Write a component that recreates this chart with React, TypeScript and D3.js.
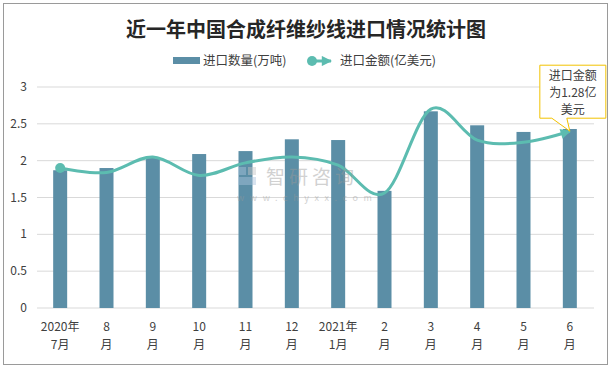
import * as d3 from "d3";

const months = ["7月", "8月", "9月", "10月", "11月", "12月", "1月", "2月", "3月", "4月", "5月", "6月"];
const labelTop = ["2020年", "8", "9", "10", "11", "12", "2021年", "2", "3", "4", "5", "6"];
const labelBottom = ["7月", "月", "月", "月", "月", "月", "1月", "月", "月", "月", "月", "月"];
const volume = [1.87, 1.9, 2.05, 2.09, 2.13, 2.29, 2.28, 1.59, 2.67, 2.48, 2.39, 2.43];
const amount = [1.9, 1.84, 2.05, 1.8, 1.97, 2.05, 1.94, 1.56, 2.7, 2.28, 2.25, 2.4];
const yTicks = [0, 0.5, 1, 1.5, 2, 2.5, 3];
const calloutLines = ["进口金额", "为1.28亿", "美元"];

const W = 611;
const H = 369;
const font = "'Noto Sans CJK SC', 'Microsoft YaHei', sans-serif";
const barColor = "#5b8ea6";
const lineColor = "#5cbcb0";

export default function App() {
  const x = d3.scaleBand<string>().domain(months).range([37, 593]).padding(0);
  const y = d3.scaleLinear().domain([0, 3]).range([308, 87]);
  const cx = (m: string) => (x(m) as number) + x.bandwidth() / 2;
  const barW = 14;

  const line = d3
    .line<number>()
    .x((_, i) => cx(months[i]))
    .y((d) => y(d))
    .curve(d3.curveCardinal.tension(0));

  const lastX = cx(months[months.length - 1]);
  const lastY = y(amount[amount.length - 1]);

  return (
    <svg
      width={W}
      height={H}
      style={{ position: "absolute", left: 0, top: 0, fontFamily: font }}
    >
      <defs>
        <marker
          id="arr"
          viewBox="0 0 10 10"
          refX="9"
          refY="5"
          markerWidth="4"
          markerHeight="3.4"
          orient="auto"
          markerUnits="strokeWidth"
        >
          <path d="M0,0 L10,5 L0,10 z" fill={lineColor} />
        </marker>
      </defs>
      <rect x={0} y={0} width={W} height={H} fill="#fff" />
      <rect x={3.5} y={3.5} width={604} height={361} fill="#fff" stroke="#9a9a9a" strokeWidth={1} />

      <text x={306} y={37} textAnchor="middle" fontSize={20} fontWeight={700} fill="#262626">
        近一年中国合成纤维纱线进口情况统计图
      </text>

      {/* legend */}
      <rect x={173} y={57} width={27} height={7} fill={barColor} />
      <text x={203} y={65} fontSize={12.5} fill="#404040">进口数量(万吨)</text>
      <line x1={312} y1={61} x2={331} y2={61} stroke={lineColor} strokeWidth={3} markerEnd="url(#arr)" />
      <circle cx={312} cy={61} r={5} fill={lineColor} />
      <text x={340} y={65} fontSize={12.5} fill="#404040">进口金额(亿美元)</text>

      {/* grid + y labels */}
      {yTicks.map((t) => (
        <g key={t}>
          <line x1={37} x2={594} y1={y(t)} y2={y(t)} stroke="#d9d9d9" strokeWidth={1} />
          <text x={27} y={y(t) + 4} textAnchor="end" fontSize={12} fill="#404040">
            {t}
          </text>
        </g>
      ))}

      {/* bars */}
      {months.map((m, i) => (
        <rect
          key={m}
          x={cx(m) - barW / 2}
          y={y(volume[i])}
          width={barW}
          height={y(0) - y(volume[i])}
          fill={barColor}
        />
      ))}

      {/* line */}
      <path d={line(amount) ?? ""} fill="none" stroke={lineColor} strokeWidth={3} markerEnd="url(#arr)" />
      <circle cx={cx(months[0])} cy={y(amount[0])} r={5} fill={lineColor} />

      {/* watermark */}
      <g opacity={0.45}>
        <rect x={238} y={167} width={8} height={8} fill="#a9c3dc" />
        <rect x={248} y={167} width={8} height={8} fill="#c4c4c4" />
        <rect x={238} y={177} width={18} height={8} fill="#a9c3dc" />
        <text x={266} y={184} fontSize={19} fill="#9a9a9a" letterSpacing={4}>智研咨询</text>
        <text x={237} y={201} fontSize={9} fill="#9a9a9a" letterSpacing={5.6}>www.chyxx.com</text>
      </g>

      {/* x labels */}
      {months.map((m, i) => (
        <g key={m}>
          <text x={cx(m)} y={331} textAnchor="middle" fontSize={12} fill="#404040">
            {labelTop[i]}
          </text>
          <text x={cx(m)} y={349} textAnchor="middle" fontSize={12} fill="#404040">
            {labelBottom[i]}
          </text>
        </g>
      ))}

      {/* callout */}
      <path
        d={`M${lastX - 30},${lastY - 66} H${lastX + 36} V${lastY - 13} H${lastX - 3} L${lastX},${lastY} L${lastX - 18},${lastY - 13} H${lastX - 30} Z`}
        fill="#fff"
        stroke="#f2c200"
        strokeWidth={1}
      />
      {calloutLines.map((t, i) => (
        <text key={t} x={lastX + 3} y={lastY - 51 + i * 17} textAnchor="middle" fontSize={12} fill="#404040">
          {t}
        </text>
      ))}
    </svg>
  );
}
